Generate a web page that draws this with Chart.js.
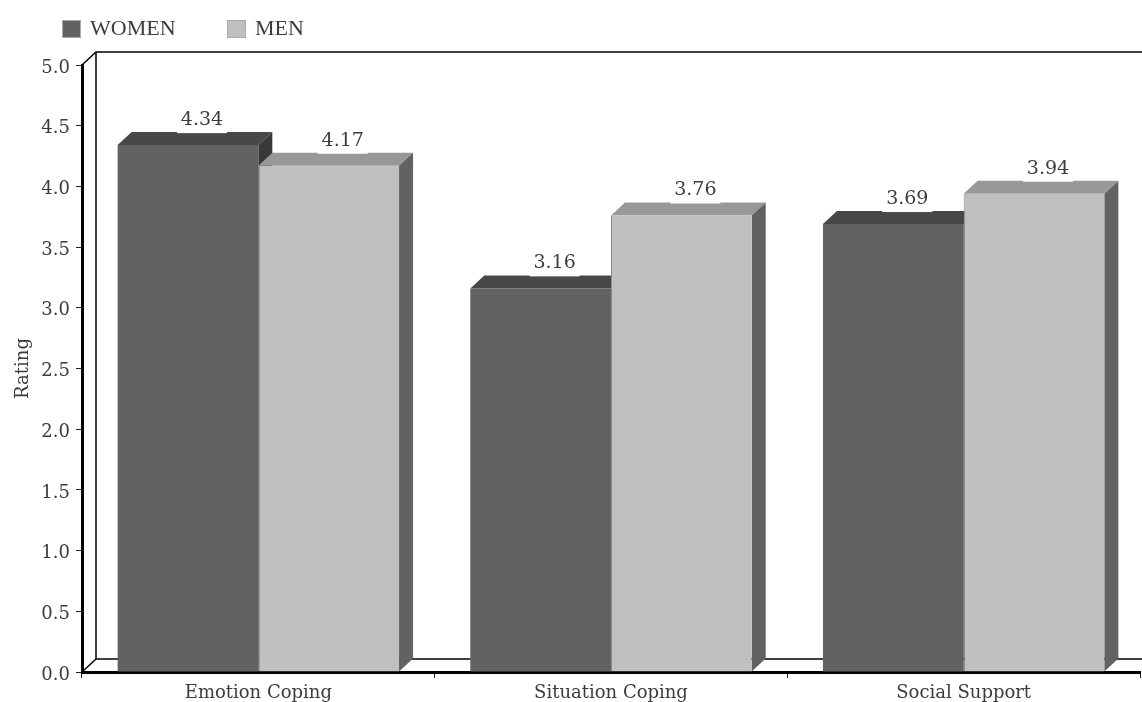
<!DOCTYPE html>
<html>
<head>
<meta charset="utf-8">
<title>Coping ratings</title>
<script src="https://cdn.jsdelivr.net/npm/chart.js@4/dist/chart.umd.min.js"></script>
<style>
  html, body { margin: 0; padding: 0; background: #fff; }
  canvas { display: block; }
</style>
</head>
<body>
<canvas id="chart" width="1142" height="702"></canvas>
<script>
const categories = ["Emotion Coping", "Situation Coping", "Social Support"];
const women = [4.34, 3.16, 3.69];
const men = [4.17, 3.76, 3.94];
const seriesNames = ["WOMEN", "MEN"];
const yTicks = [0, 0.5, 1, 1.5, 2, 2.5, 3, 3.5, 4, 4.5, 5];

const SERIF = '"Liberation Serif", serif';
const WIDE_SERIF = '"DejaVu Serif", serif';
const TEXT_COLOR = "#3c3c3c";
const DEPTH_X = 14, DEPTH_Y = 13;
const colors = [
    { front: "#636262", top: "#494848", side: "#383838" },
    { front: "#c0c0c0", top: "#989898", side: "#636262" }
];

function poly(ctx, pts, fill) {
    ctx.beginPath();
    pts.forEach((p, i) => i ? ctx.lineTo(p[0], p[1]) : ctx.moveTo(p[0], p[1]));
    ctx.closePath();
    ctx.fillStyle = fill;
    ctx.fill();
}

// Back wall, floor and the fake 3D faces of the bars
const depthPlugin = {
    id: "depth",
    beforeDatasetsDraw(chart) {
        const { ctx, chartArea: a } = chart;
        ctx.save();
        ctx.strokeStyle = "#000";
        ctx.lineWidth = 1.5;
        ctx.beginPath();
        ctx.moveTo(a.left, a.top);
        ctx.lineTo(a.left + DEPTH_X, a.top - DEPTH_Y);
        ctx.lineTo(1142, a.top - DEPTH_Y);
        ctx.moveTo(a.left + DEPTH_X, a.top - DEPTH_Y);
        ctx.lineTo(a.left + DEPTH_X, a.bottom - DEPTH_Y);
        ctx.lineTo(1142, a.bottom - DEPTH_Y);
        ctx.moveTo(a.left + DEPTH_X, a.bottom - DEPTH_Y);
        ctx.lineTo(a.left, a.bottom);
        ctx.stroke();

        chart.data.datasets.forEach((ds, d) => {
            chart.getDatasetMeta(d).data.forEach(bar => {
                const l = bar.x - bar.width / 2, r = bar.x + bar.width / 2;
                poly(ctx, [[l, bar.y], [l + DEPTH_X, bar.y - DEPTH_Y], [r + DEPTH_X, bar.y - DEPTH_Y], [r, bar.y]], colors[d].top);
                poly(ctx, [[r, bar.y], [r + DEPTH_X, bar.y - DEPTH_Y], [r + DEPTH_X, bar.base - DEPTH_Y], [r, bar.base]], colors[d].side);
            });
        });
        ctx.restore();
    },
    afterDatasetsDraw(chart) {
        const { ctx } = chart;
        ctx.save();
        ctx.font = "19px " + WIDE_SERIF;
        ctx.textAlign = "center";
        ctx.textBaseline = "middle";
        chart.data.datasets.forEach((ds, d) => {
            chart.getDatasetMeta(d).data.forEach((bar, i) => {
                const cx = bar.x + DEPTH_X, top = bar.y - DEPTH_Y;
                ctx.fillStyle = "#fff";
                ctx.fillRect(cx - 25, top - 22, 50, 23);
                ctx.fillStyle = TEXT_COLOR;
                ctx.fillText(ds.data[i].toFixed(2), cx, top - 12);
            });
        });
        ctx.restore();
    },
    afterDraw(chart) {
        const { ctx } = chart;
        ctx.save();
        ctx.font = "22px " + SERIF;
        ctx.textBaseline = "middle";
        const xs = [62, 227];
        seriesNames.forEach((name, i) => {
            ctx.fillStyle = colors[i].front;
            ctx.fillRect(xs[i], 20, 19, 18);
            ctx.strokeStyle = "#aaa";
            ctx.strokeRect(xs[i] + 0.5, 20.5, 18, 17);
            ctx.fillStyle = TEXT_COLOR;
            ctx.fillText(name, xs[i] + 28, 29);
        });
        ctx.restore();
    }
};

new Chart(document.getElementById("chart"), {
    type: "bar",
    data: {
        labels: categories,
        datasets: [
            { label: seriesNames[0], data: women, backgroundColor: colors[0].front },
            { label: seriesNames[1], data: men, backgroundColor: colors[1].front, borderColor: "#8c8c8c", borderWidth: { left: 1 } }
        ]
    },
    plugins: [depthPlugin],
    options: {
        responsive: false,
        animation: false,
        layout: { padding: { top: 65, right: 2, bottom: 0, left: 0 } },
        datasets: { bar: { categoryPercentage: 0.798, barPercentage: 1 } },
        plugins: { legend: { display: false }, tooltip: { enabled: false } },
        scales: {
            x: {
                afterFit(scale) { scale.height = 30; },
                grid: { drawOnChartArea: false, offset: true, color: "#222", tickLength: 6, tickWidth: 1 },
                border: { color: "#000", width: 3 },
                ticks: { color: TEXT_COLOR, font: { family: WIDE_SERIF, size: 18 }, padding: 5, maxRotation: 0 }
            },
            y: {
                min: 0,
                max: 5,
                afterFit(scale) { scale.width = 82; },
                afterBuildTicks(scale) { scale.ticks = yTicks.map(v => ({ value: v })); },
                grid: { drawOnChartArea: false, color: "#222", tickLength: 6, tickWidth: 1 },
                border: { color: "#000", width: 3 },
                title: { display: true, text: "Rating", color: TEXT_COLOR, font: { family: WIDE_SERIF, size: 18 }, padding: { top: 13, bottom: 0 } },
                ticks: { color: TEXT_COLOR, font: { family: WIDE_SERIF, size: 18 }, padding: 6, labelOffset: 3, callback: v => v.toFixed(1) }
            }
        }
    }
});
</script>
</body>
</html>
